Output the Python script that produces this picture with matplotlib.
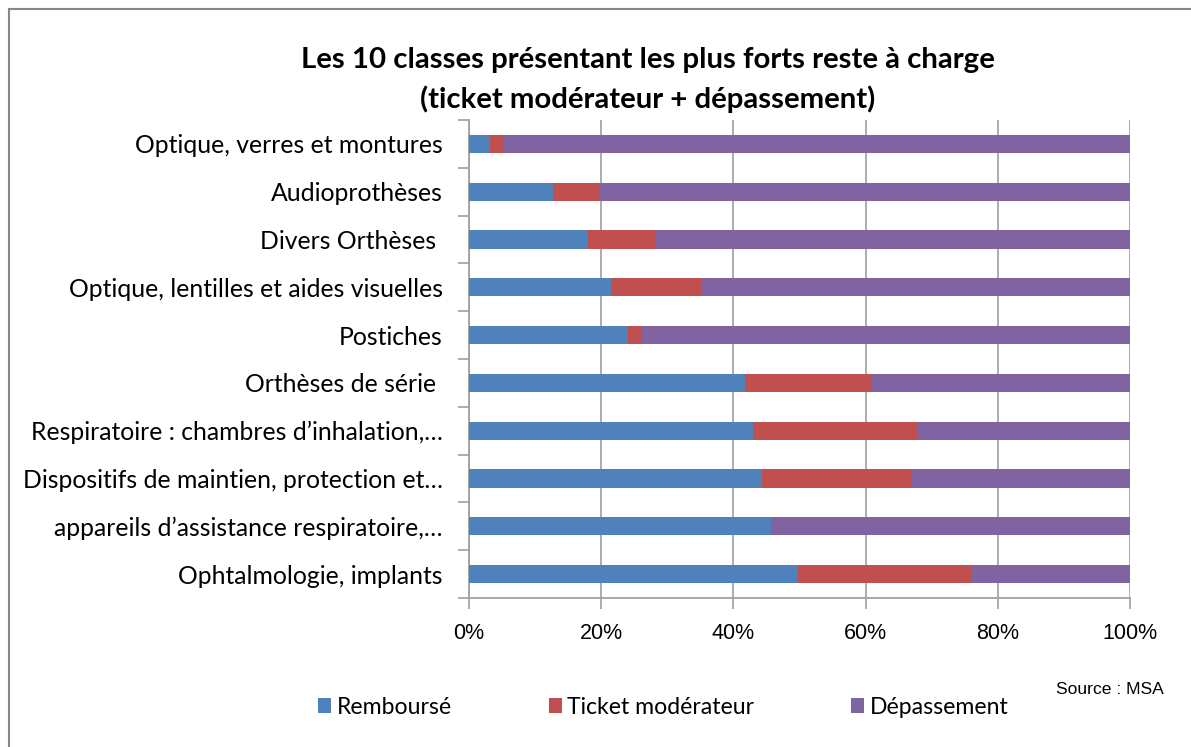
import matplotlib.pyplot as plt
from matplotlib.patches import Rectangle
from matplotlib.ticker import FixedLocator, PercentFormatter

plt.rcParams['font.family'] = ['Lato', 'DejaVu Sans']

# Data, top row first
categories = [
    'Optique, verres et montures',
    'Audioprothèses',
    'Divers Orthèses ',
    'Optique, lentilles et aides visuelles',
    'Postiches',
    'Orthèses de série ',
    'Respiratoire : chambres d\u2019inhalation,\u2026',
    'Dispositifs de maintien, protection et\u2026',
    'appareils d\u2019assistance respiratoire,\u2026',
    'Ophtalmologie, implants',
]
rembourse = [3.2, 12.7, 18.0, 21.5, 24.0, 41.7, 42.9, 44.4, 45.7, 49.7]
ticket = [2.1, 7.0, 10.1, 13.6, 2.2, 19.3, 24.9, 22.4, 0.0, 26.2]
depassement = [100 - r - t for r, t in zip(rembourse, ticket)]

series = ['Remboursé', 'Ticket modérateur', 'Dépassement']
colors = ['#4F81BD', '#C0504D', '#8064A2']

fig = plt.figure(figsize=(11.91, 7.47), dpi=100)
ax = fig.add_axes([469 / 1191, 1 - 598 / 747, 661 / 1191, 478 / 747])

y = list(range(len(categories)))
left = [0] * len(categories)
for name, vals, col in zip(series, [rembourse, ticket, depassement], colors):
    ax.barh(y, vals, left=left, height=0.38, color=col, label=name, zorder=3)
    left = [l + v for l, v in zip(left, vals)]

ax.set_xlim(0, 100)
ax.set_ylim(len(categories) - 0.5, -0.5)
ax.set_xticks([0, 20, 40, 60, 80, 100])
ax.xaxis.set_major_formatter(PercentFormatter(decimals=0))
ax.set_yticks(y)
ax.set_yticklabels(categories)
ax.yaxis.set_minor_locator(FixedLocator([i - 0.5 for i in range(len(categories) + 1)]))
ax.tick_params(axis='y', which='major', length=0, pad=19, labelsize=17.8)
ax.tick_params(axis='y', which='minor', length=8, color='#A0A0A0', width=1.2)
ax.tick_params(axis='x', length=8, color='#A0A0A0', width=1.2, pad=10, labelsize=15.5)
for lab in ax.get_xticklabels():
    lab.set_family(['Liberation Sans', 'DejaVu Sans'])

ax.grid(axis='x', color='#A6A6A6', linewidth=1.3, zorder=0)
for s in ['top', 'right']:
    ax.spines[s].set_visible(False)
for s in ['left', 'bottom']:
    ax.spines[s].set_color('#A0A0A0')
    ax.spines[s].set_linewidth(1.3)

fig.text(0.544, 1 - 60 / 747, 'Les 10 classes présentant les plus forts reste à charge',
         ha='center', va='center', fontsize=21.2, fontweight='bold')
fig.text(0.544, 1 - 99 / 747, '(ticket modérateur + dépassement)',
         ha='center', va='center', fontsize=21.2, fontweight='bold')

fig.legend(loc='center', bbox_to_anchor=(0.557, 1 - 707 / 747), ncol=3, frameon=False,
           fontsize=16.6, handlelength=0.55, handleheight=0.65, handletextpad=0.25,
           columnspacing=4.2)

fig.text(1110 / 1191, 1 - 690 / 747, 'Source : MSA', ha='center', va='center',
         fontsize=12.6, family=['Liberation Sans', 'DejaVu Sans'])

fig.patches.append(Rectangle((9 / 1191, -0.05), 1.2, (747 - 9) / 747 + 0.05,
                             transform=fig.transFigure, fill=False,
                             edgecolor='#888888', linewidth=1.5))

fig.savefig('out.png', dpi=100)
